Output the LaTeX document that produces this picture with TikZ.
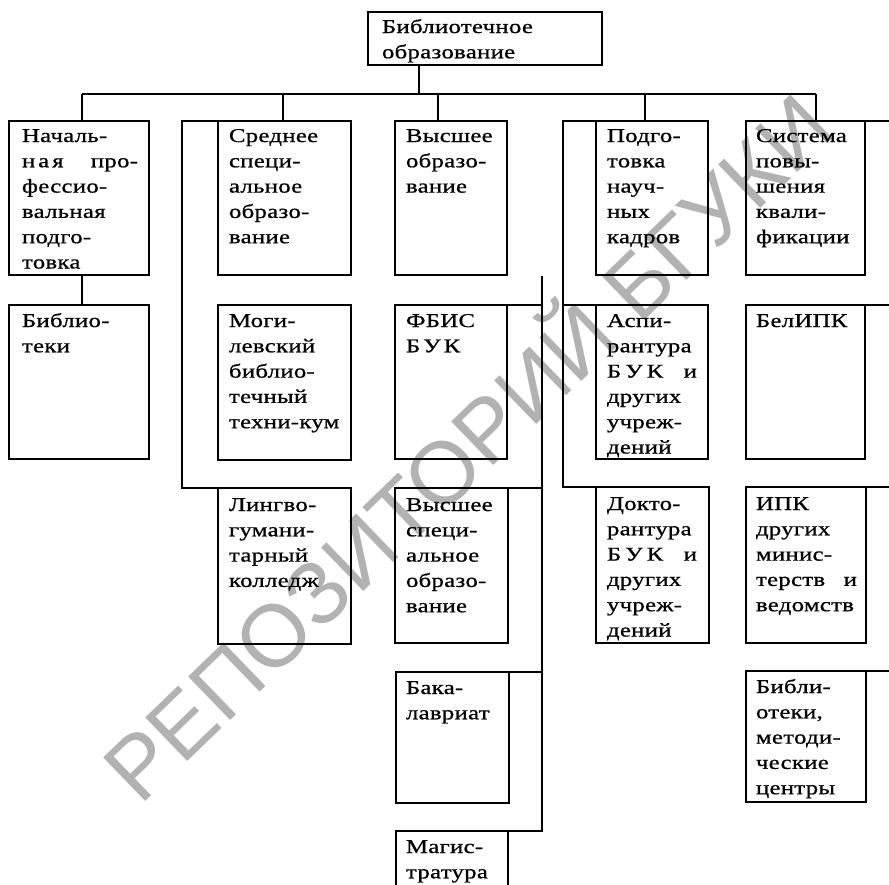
\documentclass[tikz,border=0pt]{standalone}
\usepackage{fontspec}
\setmainfont{Liberation Serif}[FakeStretch=1.27,LetterSpace=1.5,FakeBold=0.8]
\newfontfamily\wmfont{Liberation Sans}
\newcommand\chartfont{\fontsize{19.5pt}{25.3pt}\selectfont}
\newcommand\jl[2]{\makebox[#1][s]{#2}}
\begin{document}
\begin{tikzpicture}[x=1pt,y=-1pt,
  ln/.style={line width=1.4pt},
  bx/.style={draw,line width=1.4pt,inner sep=0pt,outer sep=0pt,anchor=north west},
  tx/.style={anchor=base west,inner sep=0pt,outer sep=0pt,font=\chartfont},
  wm/.style={text=black!30,font=\wmfont\fontsize{88pt}{90pt}\selectfont}]
\useasboundingbox[fill=white] (0,0) rectangle (889,884);
% watermark
\node[wm,rotate=44] (wmark) at (462,442) {РЕПОЗИТОРИЙ БГУКИ};
% boxes
\node[bx,minimum width=234pt,minimum height=53pt] (top) at (368,12) {};
\node[bx,minimum width=140pt,minimum height=154pt] (a1) at (9,121) {};
\node[bx,minimum width=140pt,minimum height=154pt] (a2) at (9,305) {};
\node[bx,minimum width=133pt,minimum height=154pt] (b1) at (218,121) {};
\node[bx,minimum width=133pt,minimum height=155pt] (b2) at (218,305) {};
\node[bx,minimum width=133pt,minimum height=156pt] (b3) at (218,488) {};
\node[bx,minimum width=112pt,minimum height=154pt] (c1) at (395,121) {};
\node[bx,minimum width=112pt,minimum height=154pt] (c2) at (395,305) {};
\node[bx,minimum width=113pt,minimum height=155pt] (c3) at (395,488) {};
\node[bx,minimum width=113pt,minimum height=131pt] (c4) at (396,672) {};
\node[bx,minimum width=112pt,minimum height=80pt] (c5) at (396,831) {};
\node[bx,minimum width=112pt,minimum height=154pt] (d1) at (596,121) {};
\node[bx,minimum width=112pt,minimum height=154pt] (d2) at (596,305) {};
\node[bx,minimum width=113pt,minimum height=156pt] (d3) at (596,487) {};
\node[bx,minimum width=119pt,minimum height=154pt] (e1) at (746,121) {};
\node[bx,minimum width=119pt,minimum height=154pt] (e2) at (746,305) {};
\node[bx,minimum width=120pt,minimum height=156pt] (e3) at (746,487) {};
\node[bx,minimum width=120pt,minimum height=131pt] (e4) at (746,671) {};
% texts
\node[tx] (ttop) at ([shift={(14,21)}]top.north west) {\parbox[t]{220pt}{Библиотечное\\образование}};
\node[tx] (ta1) at ([shift={(13,21)}]a1.north west) {\parbox[t]{130pt}{Началь-\\\jl{116pt}{н\hspace{3pt}а\hspace{3pt}я\hfill про-}\\фессио-\\вальная\\подго-\\товка}};
\node[tx] (ta2) at ([shift={(13,22)}]a2.north west) {\parbox[t]{130pt}{Библио-\\теки}};
\node[tx] (tb1) at ([shift={(11,21)}]b1.north west) {\parbox[t]{130pt}{Среднее\\специ-\\альное\\образо-\\вание}};
\node[tx] (tb2) at ([shift={(11,22)}]b2.north west) {\parbox[t]{130pt}{Моги-\\левский\\библио-\\течный\\техни-кум}};
\node[tx] (tb3) at ([shift={(11,23)}]b3.north west) {\parbox[t]{130pt}{Лингво-\\гумани-\\тарный\\колледж}};
\node[tx] (tc1) at ([shift={(11,21)}]c1.north west) {\parbox[t]{110pt}{Высшее\\образо-\\вание}};
\node[tx] (tc2) at ([shift={(11,22)}]c2.north west) {\parbox[t]{110pt}{ФБИС\\Б\hspace{3pt}У\hspace{3pt}К}};
\node[tx] (tc3) at ([shift={(11,23)}]c3.north west) {\parbox[t]{110pt}{Высшее\\специ-\\альное\\образо-\\вание}};
\node[tx] (tc4) at ([shift={(10,22)}]c4.north west) {\parbox[t]{110pt}{Бака-\\лавриат}};
\node[tx] (tc5) at ([shift={(10,22)}]c5.north west) {\parbox[t]{110pt}{Магис-\\тратура}};
\node[tx] (td1) at ([shift={(11,21)}]d1.north west) {\parbox[t]{110pt}{Подго-\\товка\\науч-\\ных\\кадров}};
\node[tx] (td2) at ([shift={(11,22)}]d2.north west) {\parbox[t]{110pt}{Аспи-\\рантура\\\jl{90pt}{Б\hspace{4pt}У\hspace{4pt}К\hfill и}\\других\\учреж-\\дений}};
\node[tx] (td3) at ([shift={(11,23)}]d3.north west) {\parbox[t]{110pt}{Докто-\\рантура\\\jl{90pt}{Б\hspace{4pt}У\hspace{4pt}К\hfill и}\\других\\учреж-\\дений}};
\node[tx] (te1) at ([shift={(10,21)}]e1.north west) {\parbox[t]{115pt}{Система\\повы-\\шения\\квали-\\фикации}};
\node[tx] (te2) at ([shift={(10,22)}]e2.north west) {\parbox[t]{115pt}{БелИПК}};
\node[tx] (te3) at ([shift={(10,23)}]e3.north west) {\parbox[t]{115pt}{ИПК\\других\\минис-\\\jl{101pt}{терств\hfill и}\\ведомств}};
\node[tx] (te4) at ([shift={(10,22)}]e4.north west) {\parbox[t]{115pt}{Библи-\\отеки,\\методи-\\ческие\\центры}};
% connectors from the top box
\coordinate (j) at (419,94);
\coordinate (kA) at (82,94);
\coordinate (kB) at (283,94);
\coordinate (kC) at (438,94);
\coordinate (kD) at (645,94);
\coordinate (kE) at (816,94);
\draw[ln] (top.south -| j) -- (j);
\draw[ln] (kA) -- (kE);
\draw[ln] (kA) -- (kA |- a1.north);
\draw[ln] (kB) -- (kB |- b1.north);
\draw[ln] (kC) -- (kC |- c1.north);
\draw[ln] (kD) -- (kD |- d1.north);
\draw[ln] (kE) -- (kE |- e1.north);
% column A
\draw[ln] (a1.south -| kA) -- (a2.north -| kA);
% column B bracket
\draw[ln] (b1.north west) -- ++(-36,0) |- (b3.north west);
% column C bracket
\coordinate (cb) at (542,276);
\draw[ln] (cb) |- (c5.north east);
\draw[ln] (c2.north east) -- (c2.north east -| cb);
\draw[ln] (c3.north east) -- (c3.north east -| cb);
\draw[ln] (c4.north east) -- (c4.north east -| cb);
% column D bracket
\draw[ln] (d1.north west) -- ++(-33,0) |- (d3.north west);
\coordinate (db) at (563,121);
\draw[ln] (d2.north west) -- (d2.north west -| db);
% column E branches to the right edge
\draw[ln] (e1.north east) -- ++(30,0);
\draw[ln] (e2.north east) -- ++(30,0);
\draw[ln] (e3.north east) -- ++(30,0);
\draw[ln] (e4.north east) -- ++(30,0);
\end{tikzpicture}
\end{document}
